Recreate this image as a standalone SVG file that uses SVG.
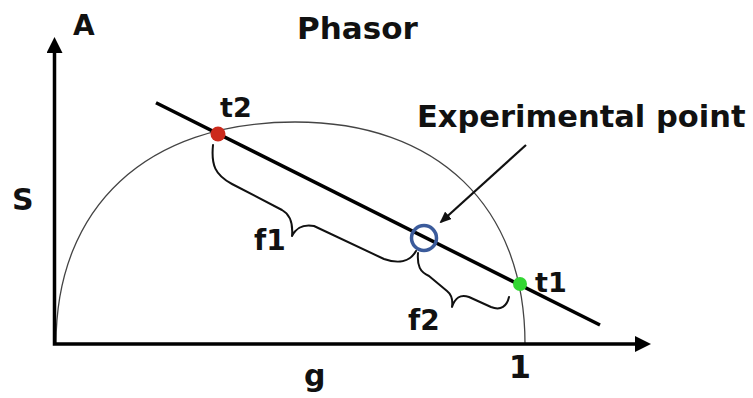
<svg xmlns="http://www.w3.org/2000/svg" width="753" height="398" viewBox="0 0 753 398">
  <style>
    .lbl { font-family: "DejaVu Sans", "Liberation Sans", sans-serif; font-weight: bold; fill: #111; }
    .axis { fill: none; stroke: #000; stroke-width: 3.5; }
    .arc { fill: none; stroke: #444; stroke-width: 1.3; }
    .main { fill: none; stroke: #000; stroke-width: 3.5; stroke-linecap: butt; }
    .brace { fill: none; stroke: #111; stroke-width: 2; stroke-linejoin: round; stroke-linecap: round; }
    .ptr { fill: none; stroke: #111; stroke-width: 2.2; }
  </style>
  <defs>
    <marker id="axhead" markerUnits="userSpaceOnUse" markerWidth="16" markerHeight="16" viewBox="0 0 16 16" refX="1" refY="8" orient="auto-start-reverse">
      <polygon points="0,0 16,8 0,16" fill="#000"/>
    </marker>
    <marker id="ptrhead" markerUnits="userSpaceOnUse" markerWidth="12" markerHeight="10" viewBox="0 0 12 10" refX="10" refY="5" orient="auto">
      <polygon points="0,0 12,5 0,10" fill="#111"/>
    </marker>
  </defs>
  <rect width="753" height="398" fill="#fff"/>

  <g id="connectors">
    <path class="arc" d="M56,344 C56,206.4 146.8,122 295,122 C437.6,122 525,206.4 525,344"/>
    <path class="axis" d="M54.5,52 V344 H636" marker-start="url(#axhead)" marker-end="url(#axhead)"/>
    <line class="main" x1="156" y1="102.7" x2="600" y2="325"/>
    <line class="ptr" x1="526" y1="145" x2="441" y2="222" marker-end="url(#ptrhead)"/>
    <path id="brace-f1" class="brace" d="M213,145 C211,165 215,175 232,184 L282,210 C291,215 293,225 292,236 C296,228 302,224 314,226 L384,259 C398,264 410,262 416,251"/>
    <path id="brace-f2" class="brace" d="M418,253 C417,266 420,272 429,276 L447,291 C452,295 453,300 452,307 C455,298 460,294 469,297 L491,307 C501,311 507,306 509,297"/>
  </g>

  <g id="point-t2">
    <circle cx="218" cy="134" r="7.5" fill="#cc2a1c"/>
    <text class="lbl" x="220" y="117" font-size="27">t2</text>
  </g>
  <g id="point-t1">
    <circle cx="520" cy="284" r="7" fill="#33d633"/>
    <text class="lbl" x="535" y="292" font-size="27">t1</text>
  </g>
  <g id="point-experimental">
    <circle cx="424" cy="238" r="12.5" fill="none" stroke="#3b5b9b" stroke-width="3.5"/>
    <text class="lbl" x="417" y="127" font-size="30.5">Experimental point</text>
  </g>
  <g id="label-f1">
    <text class="lbl" x="254" y="250" font-size="28">f1</text>
  </g>
  <g id="label-f2">
    <text class="lbl" x="408" y="330" font-size="28">f2</text>
  </g>
  <g id="label-title">
    <text class="lbl" x="297" y="39" font-size="31">Phasor</text>
  </g>
  <g id="label-A">
    <text class="lbl" x="73" y="35" font-size="28">A</text>
  </g>
  <g id="label-S">
    <text class="lbl" x="12" y="210" font-size="30">S</text>
  </g>
  <g id="label-g">
    <text class="lbl" x="304" y="386" font-size="30">g</text>
  </g>
  <g id="label-1">
    <text class="lbl" x="520" y="378" font-size="32" text-anchor="middle">1</text>
  </g>
</svg>
